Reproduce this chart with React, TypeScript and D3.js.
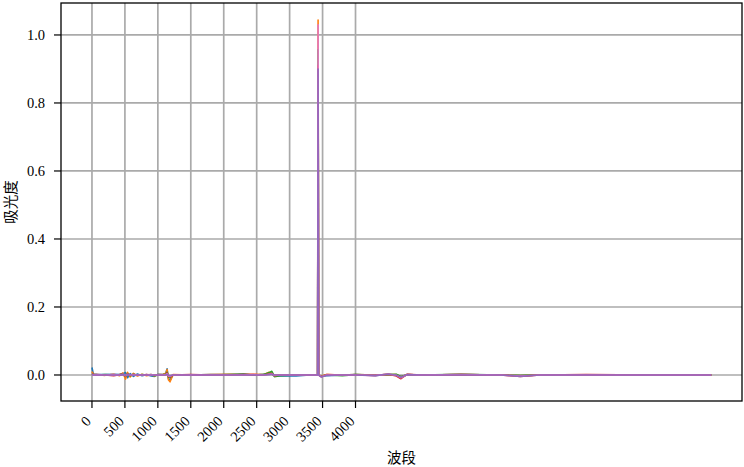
import React from "react";
import * as d3 from "d3";

const xs = [0, 20, 80, 200, 330, 420, 470, 510, 540, 580, 630, 690, 760, 830, 900, 950, 1000, 1080, 1120, 1140, 1160, 1185, 1230, 1500, 1800, 2100, 2300, 2450, 2600, 2690, 2730, 2770, 2850, 3100, 3300, 3425, 3432, 3440, 3480, 3560, 3800, 4000, 4300, 4500, 4620, 4690, 4780, 5000, 5600, 6200, 6500, 6800, 7500, 8500, 9400];

const blue = [0.022, 0.003, 0.002, 0.001, 0.002, 0.001, 0.004, 0.007, -0.008, 0.004, -0.004, 0.003, -0.002, 0.001, -0.003, -0.004, 0.002, 0.001, 0.005, 0.018, -0.010, -0.016, 0.0, 0.0, 0.001, 0.001, 0.003, 0.0, 0.002, 0.004, 0.003, -0.003, -0.003, -0.003, 0.0, 0.0, 0.900, 0.0, -0.004, -0.002, 0.0, 0.001, -0.001, 0.001, 0.0, -0.004, 0.0, 0.0, 0.001, 0.0, -0.002, 0.0, 0.0, 0.0, 0.0];
const orange = [0.010, 0.002, 0.001, -0.001, 0.002, -0.002, 0.006, -0.012, 0.008, -0.006, 0.005, -0.003, 0.002, -0.002, 0.001, -0.003, 0.001, 0.002, 0.004, 0.016, -0.014, -0.020, 0.001, 0.0, 0.001, 0.002, 0.001, 0.002, 0.001, 0.008, 0.005, -0.002, 0.0, 0.0, 0.0, 0.0, 1.044, 0.0, -0.003, 0.001, 0.0, 0.001, 0.0, 0.001, 0.001, -0.005, 0.001, 0.0, 0.001, 0.0, -0.002, 0.0, 0.0, 0.0, 0.0];
const green = [0.004, 0.001, 0.0, 0.001, 0.0, 0.001, 0.003, -0.004, 0.004, -0.002, 0.002, -0.001, 0.001, 0.0, 0.001, -0.002, 0.0, 0.001, 0.002, 0.008, -0.006, -0.008, 0.0, 0.0, 0.0, 0.001, 0.002, 0.0, 0.001, 0.007, 0.011, -0.005, -0.002, 0.0, 0.0, 0.0, 0.956, 0.0, -0.004, 0.0, -0.002, 0.001, 0.0, 0.001, 0.002, -0.006, 0.001, 0.0, 0.002, 0.0, -0.002, 0.0, 0.0, 0.0, 0.0];
const red = [0.003, 0.001, 0.0, 0.0, -0.002, 0.001, 0.002, -0.003, 0.003, -0.001, 0.001, 0.0, 0.0, 0.001, 0.0, -0.001, 0.0, 0.0, 0.001, 0.006, -0.004, -0.006, 0.0, 0.001, 0.0, 0.0, 0.001, 0.001, 0.0, 0.003, 0.004, -0.002, 0.0, 0.0, 0.0, 0.0, 0.910, 0.0, -0.005, 0.001, 0.0, 0.0, -0.001, 0.002, -0.003, -0.011, 0.002, 0.0, 0.001, 0.0, -0.004, 0.0, 0.001, 0.0, 0.0];
const pink = [0.002, 0.0, 0.001, 0.0, 0.001, 0.0, 0.002, -0.002, 0.002, 0.0, 0.001, 0.0, 0.0, 0.0, 0.001, -0.001, 0.0, 0.0, 0.001, 0.004, -0.003, -0.004, 0.0, 0.0, 0.0, 0.0, 0.0, 0.001, 0.0, 0.002, 0.003, -0.001, 0.0, 0.0, 0.0, 0.0, 1.030, 0.0, -0.005, 0.0, 0.0, 0.0, -0.001, 0.002, -0.001, -0.008, 0.001, 0.0, 0.001, 0.0, -0.003, 0.0, 0.0, 0.0, 0.0];
const purple = [0.001, 0.0, 0.0, 0.0, 0.0, 0.0, 0.001, -0.001, 0.001, 0.0, 0.0, 0.0, 0.0, 0.0, 0.0, -0.001, 0.0, 0.0, 0.0, 0.002, -0.001, -0.002, 0.0, 0.0, 0.0, 0.0, 0.0, 0.0, 0.0, 0.001, 0.002, 0.0, 0.0, 0.0, 0.0, 0.0, 0.900, 0.0, -0.006, -0.001, 0.0, 0.0, -0.002, 0.003, -0.001, -0.007, 0.001, 0.0, 0.0, 0.0, -0.004, 0.0, 0.0, 0.0, 0.0];

const seriesList = [
  { name: "s1", color: "#1f77b4", values: blue },
  { name: "s2", color: "#ff7f0e", values: orange },
  { name: "s3", color: "#2ca02c", values: green },
  { name: "s4", color: "#d62728", values: red },
  { name: "s5", color: "#e377c2", values: pink },
  { name: "s6", color: "#9467bd", values: purple },
];

const xTicks = [0, 500, 1000, 1500, 2000, 2500, 3000, 3500, 4000];
const yTicks = [0.0, 0.2, 0.4, 0.6, 0.8, 1.0];

const W = 744;
const H = 467;
const left = 61;
const right = 742;
const top = 3;
const bottom = 401;

export default function App() {
  const x = d3.scaleLinear().domain([-470, 9866]).range([left, right]);
  const y = d3.scaleLinear().domain([-0.0765, 1.094]).range([bottom, top]);
  const line = d3
    .line<number>()
    .x((_, i) => x(xs[i]))
    .y((d) => y(d));

  return (
    <div style={{ position: "absolute", left: 0, top: 0 }}>
      <svg width={W} height={H} style={{ display: "block", background: "#fff" }}>
        {xTicks.map((t) => (
          <line key={"gx" + t} x1={x(t)} x2={x(t)} y1={top} y2={bottom} stroke="#aaaaaa" strokeWidth={1.7} />
        ))}
        {yTicks.map((t) => (
          <line key={"gy" + t} x1={left} x2={right} y1={y(t)} y2={y(t)} stroke="#aaaaaa" strokeWidth={1.7} />
        ))}
        <defs>
          <clipPath id="clip">
            <rect x={left} y={top} width={right - left} height={bottom - top} />
          </clipPath>
        </defs>
        <g clipPath="url(#clip)">
          {seriesList.map((s) => (
            <path key={s.name} d={line(s.values) || ""} fill="none" stroke={s.color} strokeWidth={1.6} strokeLinejoin="round" />
          ))}
        </g>
        <rect x={left} y={top} width={right - left} height={bottom - top} fill="none" stroke="#000" strokeWidth={1.3} />
        {yTicks.map((t) => (
          <g key={"yt" + t}>
            <line x1={left - 7} x2={left} y1={y(t)} y2={y(t)} stroke="#000" strokeWidth={1.2} />
            <text x={left - 16} y={y(t)} textAnchor="end" dominantBaseline="central" fontFamily="'Liberation Serif', serif" fontSize={14.5} fill="#000">
              {t.toFixed(1)}
            </text>
          </g>
        ))}
        {xTicks.map((t) => (
          <g key={"xt" + t}>
            <line x1={x(t)} x2={x(t)} y1={bottom} y2={bottom + 7} stroke="#000" strokeWidth={1.2} />
            <text
              transform={`translate(${x(t)},${422}) rotate(-45)`}
              textAnchor="end"
              fontFamily="'Liberation Serif', serif"
              fontSize={14.5}
              fill="#000"
            >
              {String(t)}
            </text>
          </g>
        ))}
        <text x={(left + right) / 2} y={463} textAnchor="middle" fontFamily="'Noto Sans CJK SC', sans-serif" fontSize={14.5} fill="#000">
          波段
        </text>
        <text
          transform={`translate(16,${(top + bottom) / 2}) rotate(-90)`}
          textAnchor="middle"
          fontFamily="'Noto Sans CJK SC', sans-serif"
          fontSize={14.5}
          fill="#000"
        >
          吸光度
        </text>
      </svg>
    </div>
  );
}
